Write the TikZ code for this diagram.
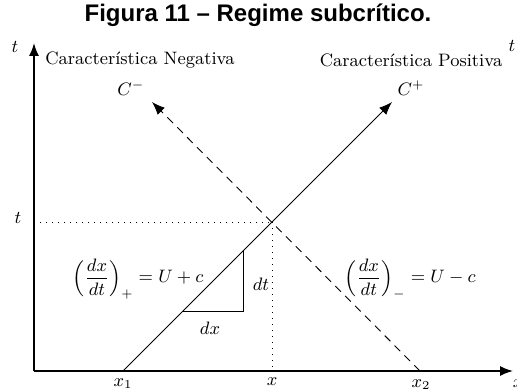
\documentclass[tikz,border=0pt]{standalone}
\usepackage{fontspec}
\newfontfamily\titlefont{Liberation Sans}
\usetikzlibrary{arrows.meta}
\begin{document}
\begin{tikzpicture}[x=0.5pt,y=-0.5pt,
  lbl/.style={font=\fontsize{9}{11}\selectfont, inner sep=0pt},
  axis/.style={line width=0.8pt, -{Latex[length=6.5pt,width=5pt]}},
  charpos/.style={line width=0.45pt, -{Latex[length=6.5pt,width=5pt]}},
  charneg/.style={line width=0.45pt, dash pattern=on 4pt off 3pt, -{Latex[length=6.5pt,width=5pt]}},
  guide/.style={line width=0.45pt, dash pattern=on 0.6pt off 2.4pt},
  tri/.style={line width=0.45pt}]
\useasboundingbox (0,0) rectangle (517,390);
% title
\node[inner sep=0pt] (title) at (258,15) {\titlefont\bfseries\fontsize{12}{14}\selectfont Figura 11 – Regime subcrítico.};
% key points
\coordinate (O) at (34,371);
\coordinate (ytop) at (34,43);
\coordinate (xend) at (513,371);
\coordinate (X1) at (123,371);
\coordinate (X2) at (420,371);
\coordinate (Xm) at (272,371);
\coordinate (Ty) at (34,222);
\coordinate (P) at (272,222);
\coordinate (Cp) at (392,102);
\coordinate (Cm) at (152,102);
\coordinate (A) at (183,311);
\coordinate (B) at (243,311);
\coordinate (Cc) at (243,251);
% axes
\draw[axis] (O) -- (ytop);
\draw[axis] (O) -- (xend);
% guides
\draw[guide] (Ty) -- (P);
\draw[guide] (P) -- (Xm);
% characteristics
\draw[charpos] (X1) -- (Cp);
\draw[charneg] (X2) -- (Cm);
% triangle
\draw[tri] (A) -- (B) -- (Cc);
% labels
\node[lbl] (tl) at (15,47) {$t$};
\node[lbl] (tr) at (512,46) {$t$};
\node[lbl] (xl) at (518,384) {$x$};
\node[lbl] (cn) at (140,60) {Característica Negativa};
\node[lbl] (cp) at (411,60) {Característica Positiva};
\node[lbl] (cmlab) at (131,88) {$C^{-}$};
\node[lbl] (cplab) at (411,88) {$C^{+}$};
\node[lbl] (tt) at (18,218) {$t$};
\node[lbl] (fl) at (138,279) {$\displaystyle\left(\frac{dx}{dt}\right)_{+} = U + c$};
\node[lbl] (fr) at (410,279) {$\displaystyle\left(\frac{dx}{dt}\right)_{-} = U - c$};
\node[lbl] (dtl) at (261,284) {$dt$};
\node[lbl] (dxl) at (210,328) {$dx$};
\node[lbl] (x1l) at (123,384) {$x_1$};
\node[lbl] (xml) at (272,382) {$x$};
\node[lbl] (x2l) at (421,385) {$x_2$};
\end{tikzpicture}
\end{document}
